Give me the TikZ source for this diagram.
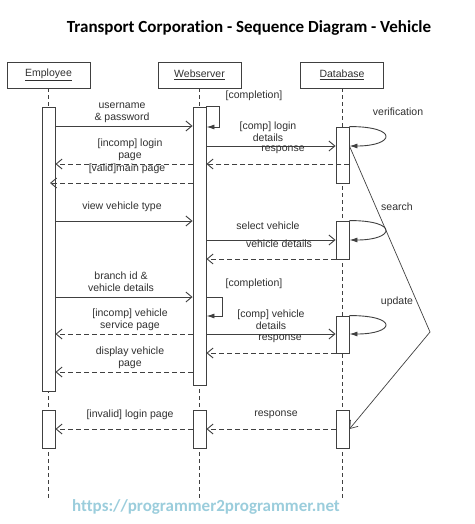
\documentclass[tikz,border=0pt]{standalone}
\usepackage{fontspec}
\setmainfont{Liberation Sans}
\newfontfamily\titlefont[Ligatures=NoCommon]{Carlito}
\usetikzlibrary{arrows.meta}
\definecolor{ln}{HTML}{404040}
\definecolor{tx}{HTML}{303030}
\definecolor{urlc}{RGB}{155,205,220}
\begin{document}
\begin{tikzpicture}[x=1pt,y=-1pt,
  head/.style={draw=ln, line width=0.9pt, minimum width=83pt, minimum height=26pt, inner sep=0pt, font=\fontsize{10.5}{12}\selectfont, text=tx},
  act/.style={draw=ln, fill=white, line width=0.9pt, minimum width=13pt, inner sep=0pt},
  life/.style={draw=ln, dash pattern=on 4pt off 3pt, line width=0.8pt},
  msg/.style={draw=ln, line width=0.9pt, -{Straight Barb[length=6pt,width=10pt]}},
  reply/.style={msg, dash pattern=on 5pt off 3pt},
  selfmsg/.style={draw=ln, line width=0.9pt, -{Latex[length=8pt,width=5pt]}},
  lbl/.style={font=\fontsize{10.5}{12}\selectfont, text=tx, align=center, inner sep=0pt}]
\useasboundingbox (0,0) rectangle (474,524);
% title
\node[font=\titlefont\bfseries\fontsize{17}{19}\selectfont] (title) at (249,28) {Transport Corporation - Sequence Diagram - Vehicle};
% heads
\node[head] (hE) at (48.5,75) {\underline{Employee}};
\node[head] (hW) at (199.5,75) {\underline{Webserver}};
\node[head] (hD) at (342,75) {\underline{Database}};
\coordinate (endE) at (48.5,498);
\coordinate (endW) at (199.5,498);
\coordinate (endD) at (342.5,498);
\draw[life] (hE) -- (endE);
\draw[life] (hW) -- (endW);
\draw[life] (hD.south -| endD) -- (endD);
% activations
\node[act, minimum height=284pt] (eA) at (48.5,249) {};
\node[act, minimum height=278pt] (wA) at (199.5,246) {};
\node[act, minimum height=56pt] (d1) at (342.5,155) {};
\node[act, minimum height=38pt] (d2) at (342.5,240) {};
\node[act, minimum height=37pt] (d3) at (342.5,334.5) {};
\node[act, minimum height=38pt] (eB) at (48.5,429) {};
\node[act, minimum height=38pt] (wB) at (199.5,429) {};
\node[act, minimum height=38pt] (dB) at (342.5,429) {};
% message levels
\coordinate (m1) at (0,126);
\coordinate (c1) at (0,127);
\coordinate (m2) at (0,146);
\coordinate (r1) at (0,164);
\coordinate (r2) at (0,183);
\coordinate (m3) at (0,221);
\coordinate (m4) at (0,240);
\coordinate (r3) at (0,259);
\coordinate (m5) at (0,297);
\coordinate (c2) at (0,316);
\coordinate (m6) at (0,334);
\coordinate (r4) at (0,353);
\coordinate (r5) at (0,372);
\coordinate (r6) at (0,429);
\coordinate (apex) at (430,332);
% messages
\draw[msg] (eA.east |- m1) -- (wA.west |- m1);
\draw[selfmsg] (wA.north east) -- ++(13,0) |- (wA.east |- c1);
\draw[msg] (wA.east |- m2) -- (d1.west |- m2);
\draw[selfmsg] (d1.north east) .. controls +(50,0) and +(45,0) .. (d1.east |- m2);
\draw[reply] (d1.east |- r1) -- (wA.east |- r1);
\draw[reply] (wA.west |- r1) -- (eA.east |- r1);
\draw[reply] (wA.west |- r2) -- ([xshift=1.5pt]eA.center |- r2);
\draw[msg] (eA.east |- m3) -- (wA.west |- m3);
\draw[msg] (wA.east |- m4) -- (d2.west |- m4);
\draw[selfmsg] (d2.north east) .. controls +(50,0) and +(45,0) .. (d2.east |- m4);
\draw[reply] (d2.west |- r3) -- (wA.east |- r3);
\draw[msg] (eA.east |- m5) -- (wA.west |- m5);
\draw[selfmsg] (wA.east |- m5) -- ++(16,0) |- (wA.east |- c2);
\draw[msg] (wA.east |- m6) -- (d3.west |- m6);
\draw[selfmsg] (d3.north east) .. controls +(50,0) and +(45,0) .. (d3.east |- m6);
\draw[reply] (d3.west |- r4) -- (wA.east |- r4);
\draw[reply] (wA.west |- m6) -- (eA.east |- m6);
\draw[reply] (wA.west |- r5) -- (eA.east |- r5);
\draw[reply] (wB.west |- r6) -- (eB.east |- r6);
\draw[reply] (dB.west |- r6) -- (wB.east |- r6);
\draw[draw=ln, line width=0.7pt, -{Straight Barb[length=7pt,width=10pt]}] (d1.east |- m2) -- (apex) -- (dB.east);
% labels
\node[lbl] (l1) at (122,112.5) {username\\\& password};
\node[lbl] (l2) at (254,96) {[completion]};
\node[lbl] (l3) at (268,131.5) {[comp] login\\details};
\node[lbl] (l4) at (283,150) {response};
\node[lbl] (l5) at (130,150) {[incomp] login\\page};
\node[lbl] (l6) at (127,169) {[valid]main page};
\node[lbl] (l7) at (398,112) {verification};
\node[lbl] (l8) at (122,207) {view vehicle type};
\node[lbl] (l9) at (268,226) {select vehicle};
\node[lbl] (l10) at (279,244) {vehicle details};
\node[lbl] (l11) at (397,207) {search};
\node[lbl] (l12) at (121,282) {branch id \&\\vehicle details};
\node[lbl] (l13) at (254,284) {[completion]};
\node[lbl] (l14) at (271,320) {[comp] vehicle\\details};
\node[lbl] (l15) at (280,339) {response};
\node[lbl] (l16) at (397,302) {update};
\node[lbl] (l17) at (130,320) {[incomp] vehicle\\service page};
\node[lbl] (l18) at (130,358) {display vehicle\\page};
\node[lbl] (l19) at (130,415) {[invalid] login page};
\node[lbl] (l20) at (276,415) {response};
% url
\node[font=\titlefont\bfseries\fontsize{17}{19}\selectfont, text=urlc] (url) at (206,507) {https://programmer2programmer.net};
\end{tikzpicture}
\end{document}
